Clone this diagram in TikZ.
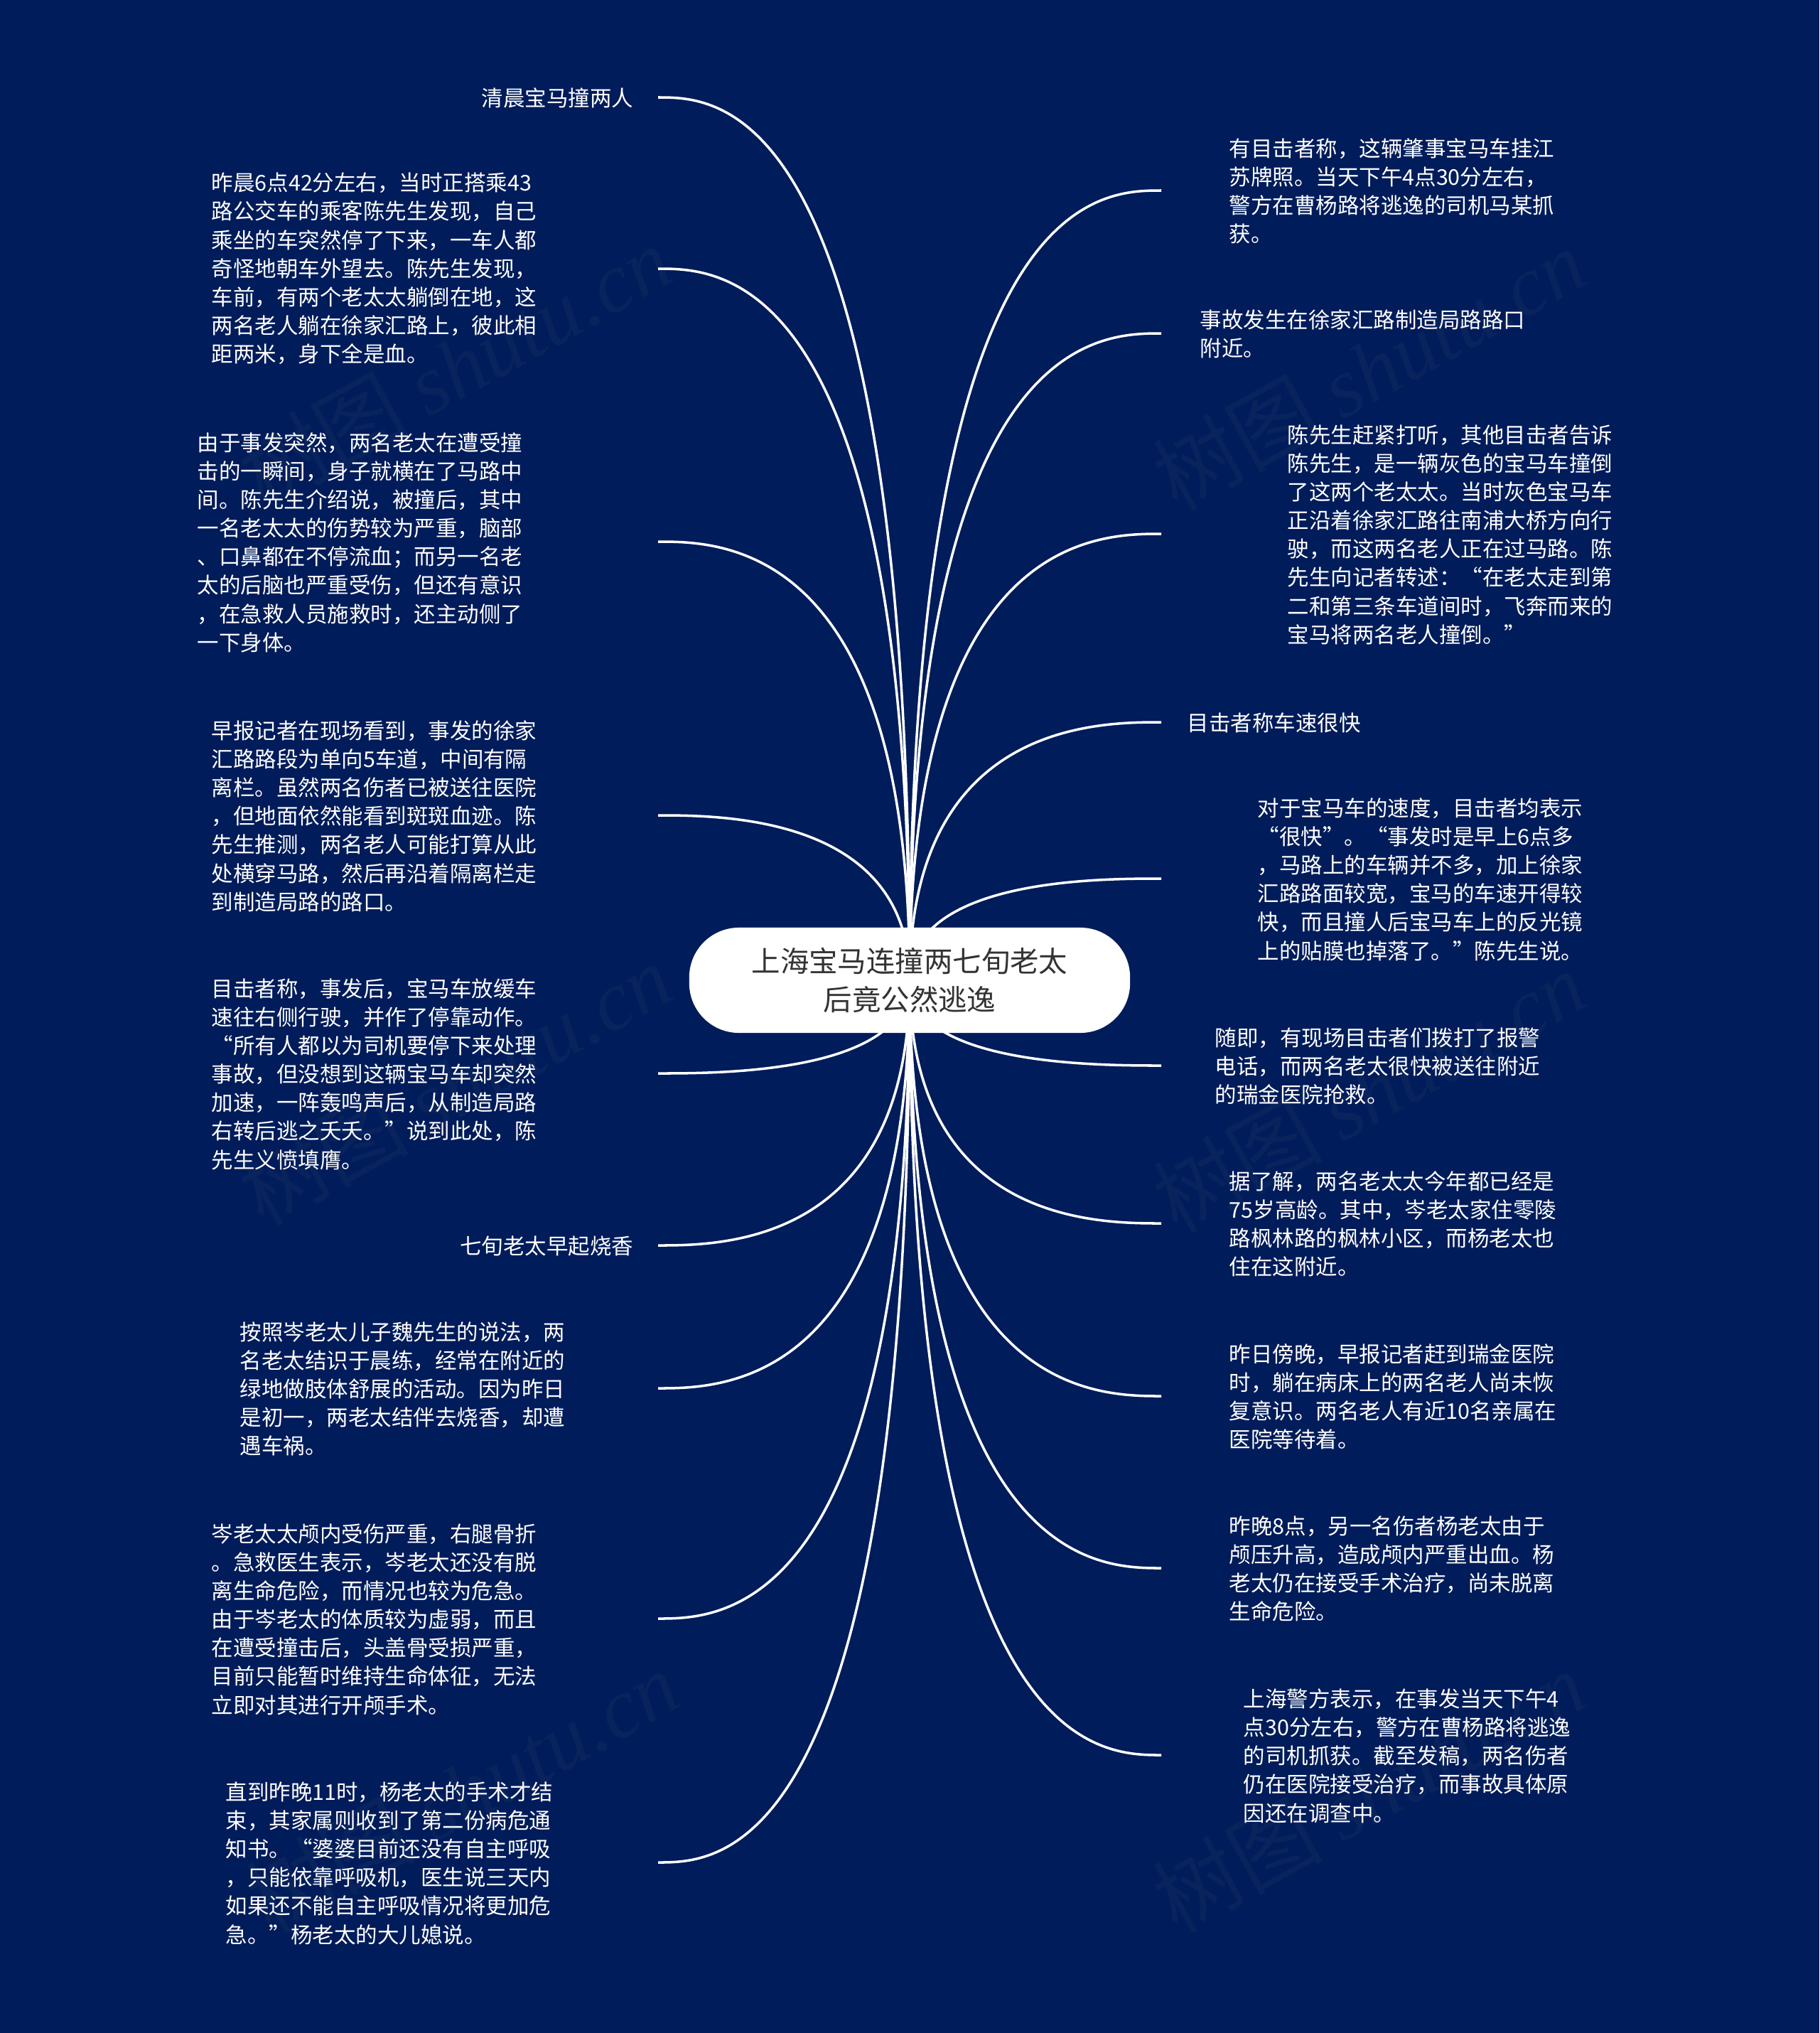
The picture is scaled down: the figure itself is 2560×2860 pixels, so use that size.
\documentclass[tikz,border=0pt]{standalone}
\usepackage{fontspec}
\setmainfont{Noto Sans CJK SC}
\newfontfamily\cjk{Noto Sans CJK SC}
\newfontfamily\markfont{Liberation Serif Italic}
\usetikzlibrary{calc,backgrounds}
\definecolor{navy}{HTML}{001C5A}
\definecolor{inkgrey}{HTML}{333333}
\tikzset{
    body/.style={text=white,align=left,inner sep=0pt,yshift=-0.01cm,font=\fontsize{8.67}{11.42}\selectfont},
    note/.style={body,anchor=west},
    single/.style={body,anchor=east},
    rootbox/.style={fill=white,text=inkgrey,rounded corners=0.7cm,minimum width=6.2cm,minimum height=1.48cm,align=center,inner sep=0pt,font=\fontsize{11.5}{15.5}\selectfont},
    stem/.style={draw=white,line width=1pt,to path={.. controls (\tikztostart |- \tikztotarget) and ($(\tikztostart |- \tikztotarget)!0.75!(\tikztotarget)$) .. (\tikztotarget)}},
    stamp/.style={text=gray,opacity=0.07,rotate=29,inner sep=0pt,font=\fontsize{34}{34}\selectfont}
}
\begin{document}
\begin{tikzpicture}[x=0.01cm,y=-0.01cm]
    \useasboundingbox (0,0) rectangle (2560,2860);
    \node[rootbox] (root) at (1280,1379) {上海宝马连撞两七旬老太\\后竟公然逃逸};

    % left side
    \coordinate (l1) at (926,137);
    \coordinate (l2) at (926,378);
    \coordinate (l3) at (926,762);
    \coordinate (l4) at (926,1147);
    \coordinate (l5) at (926,1510);
    \coordinate (l6) at (926,1752);
    \coordinate (l7) at (926,1953);
    \coordinate (l8) at (926,2277);
    \coordinate (l9) at (926,2620);
    \node[single] (t1) at (892,137) {清晨宝马撞两人};
    \node[note] (t2) at (297,377) {昨晨6点42分左右，当时正搭乘43\\路公交车的乘客陈先生发现，自己\\乘坐的车突然停了下来，一车人都\\奇怪地朝车外望去。陈先生发现，\\车前，有两个老太太躺倒在地，这\\两名老人躺在徐家汇路上，彼此相\\距两米，身下全是血。};
    \node[note] (t3) at (277,762) {由于事发突然，两名老太在遭受撞\\击的一瞬间，身子就横在了马路中\\间。陈先生介绍说，被撞后，其中\\一名老太太的伤势较为严重，脑部\\、口鼻都在不停流血；而另一名老\\太的后脑也严重受伤，但还有意识\\，在急救人员施救时，还主动侧了\\一下身体。};
    \node[note] (t4) at (297,1147) {早报记者在现场看到，事发的徐家\\汇路路段为单向5车道，中间有隔\\离栏。虽然两名伤者已被送往医院\\，但地面依然能看到斑斑血迹。陈\\先生推测，两名老人可能打算从此\\处横穿马路，然后再沿着隔离栏走\\到制造局路的路口。};
    \node[note] (t5) at (297,1510) {目击者称，事发后，宝马车放缓车\\速往右侧行驶，并作了停靠动作。\\“所有人都以为司机要停下来处理\\事故，但没想到这辆宝马车却突然\\加速，一阵轰鸣声后，从制造局路\\右转后逃之夭夭。”说到此处，陈\\先生义愤填膺。};
    \node[single] (t6) at (892,1752) {七旬老太早起烧香};
    \node[note] (t7) at (337,1953) {按照岑老太儿子魏先生的说法，两\\名老太结识于晨练，经常在附近的\\绿地做肢体舒展的活动。因为昨日\\是初一，两老太结伴去烧香，却遭\\遇车祸。};
    \node[note] (t8) at (297,2277) {岑老太太颅内受伤严重，右腿骨折\\。急救医生表示，岑老太还没有脱\\离生命危险，而情况也较为危急。\\由于岑老太的体质较为虚弱，而且\\在遭受撞击后，头盖骨受损严重，\\目前只能暂时维持生命体征，无法\\立即对其进行开颅手术。};
    \node[note] (t9) at (317,2620) {直到昨晚11时，杨老太的手术才结\\束，其家属则收到了第二份病危通\\知书。“婆婆目前还没有自主呼吸\\，只能依靠呼吸机，医生说三天内\\如果还不能自主呼吸情况将更加危\\急。”杨老太的大儿媳说。};

    % right side
    \coordinate (r1) at (1634,268);
    \coordinate (r2) at (1634,469);
    \coordinate (r3) at (1634,751);
    \coordinate (r4) at (1634,1016);
    \coordinate (r5) at (1634,1236);
    \coordinate (r6) at (1634,1499);
    \coordinate (r7) at (1634,1721);
    \coordinate (r8) at (1634,1964);
    \coordinate (r9) at (1634,2206);
    \coordinate (r10) at (1634,2469);
    \node[note] (s1) at (1729,268) {有目击者称，这辆肇事宝马车挂江\\苏牌照。当天下午4点30分左右，\\警方在曹杨路将逃逸的司机马某抓\\获。};
    \node[note] (s2) at (1688,469) {事故发生在徐家汇路制造局路路口\\附近。};
    \node[note] (s3) at (1811,751) {陈先生赶紧打听，其他目击者告诉\\陈先生，是一辆灰色的宝马车撞倒\\了这两个老太太。当时灰色宝马车\\正沿着徐家汇路往南浦大桥方向行\\驶，而这两名老人正在过马路。陈\\先生向记者转述：“在老太走到第\\二和第三条车道间时，飞奔而来的\\宝马将两名老人撞倒。”};
    \node[note] (s4) at (1670,1016) {目击者称车速很快};
    \node[note] (s5) at (1769,1236) {对于宝马车的速度，目击者均表示\\“很快”。“事发时是早上6点多\\，马路上的车辆并不多，加上徐家\\汇路路面较宽，宝马的车速开得较\\快，而且撞人后宝马车上的反光镜\\上的贴膜也掉落了。”陈先生说。};
    \node[note] (s6) at (1709,1499) {随即，有现场目击者们拨打了报警\\电话，而两名老太很快被送往附近\\的瑞金医院抢救。};
    \node[note] (s7) at (1729,1721) {据了解，两名老太太今年都已经是\\75岁高龄。其中，岑老太家住零陵\\路枫林路的枫林小区，而杨老太也\\住在这附近。};
    \node[note] (s8) at (1729,1964) {昨日傍晚，早报记者赶到瑞金医院\\时，躺在病床上的两名老人尚未恢\\复意识。两名老人有近10名亲属在\\医院等待着。};
    \node[note] (s9) at (1729,2206) {昨晚8点，另一名伤者杨老太由于\\颅压升高，造成颅内严重出血。杨\\老太仍在接受手术治疗，尚未脱离\\生命危险。};
    \node[note] (s10) at (1749,2469) {上海警方表示，在事发当天下午4\\点30分左右，警方在曹杨路将逃逸\\的司机抓获。截至发稿，两名伤者\\仍在医院接受治疗，而事故具体原\\因还在调查中。};

    \begin{pgfonlayer}{background}
    \fill[navy] (0,0) rectangle (2560,2860);
    \draw[stem] (root.center) to (l1);
    \draw[stem] (root.center) to (l2);
    \draw[stem] (root.center) to (l3);
    \draw[stem] (root.center) to (l4);
    \draw[stem] (root.center) to (l5);
    \draw[stem] (root.center) to (l6);
    \draw[stem] (root.center) to (l7);
    \draw[stem] (root.center) to (l8);
    \draw[stem] (root.center) to (l9);
    \draw[stem] (root.center) to (r1);
    \draw[stem] (root.center) to (r2);
    \draw[stem] (root.center) to (r3);
    \draw[stem] (root.center) to (r4);
    \draw[stem] (root.center) to (r5);
    \draw[stem] (root.center) to (r6);
    \draw[stem] (root.center) to (r7);
    \draw[stem] (root.center) to (r8);
    \draw[stem] (root.center) to (r9);
    \draw[stem] (root.center) to (r10);
    \end{pgfonlayer}

    % watermark
    \node[stamp] (m1) at (640,515) {树图 {\markfont shutu.cn}};
    \node[stamp] (m2) at (1926,519) {树图 {\markfont shutu.cn}};
    \node[stamp] (m3) at (640,1525) {树图 {\markfont shutu.cn}};
    \node[stamp] (m4) at (1926,1535) {树图 {\markfont shutu.cn}};
    \node[stamp] (m5) at (650,2520) {树图 {\markfont shutu.cn}};
    \node[stamp] (m6) at (1926,2520) {树图 {\markfont shutu.cn}};
\end{tikzpicture}
\end{document}
